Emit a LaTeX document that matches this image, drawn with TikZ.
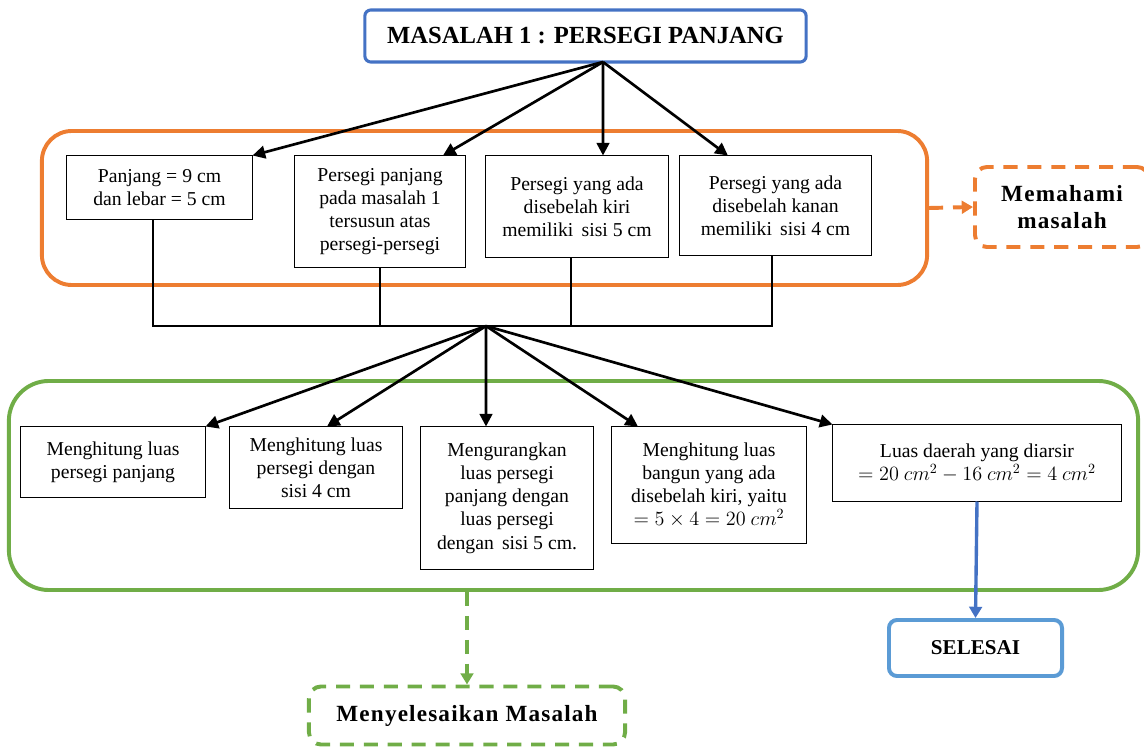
\documentclass[tikz,border=0pt]{standalone}
\usepackage{fontspec}
\setmainfont{Liberation Serif}
\usetikzlibrary{arrows.meta, positioning}
\definecolor{mapblue}{HTML}{4472C4}
\definecolor{mapsky}{HTML}{5B9BD5}
\definecolor{maporange}{HTML}{ED7D31}
\definecolor{mapgreen}{HTML}{70AD47}

\begin{document}
\begin{tikzpicture}[x=0.025cm, y=-0.025cm,
    box/.style={rectangle, draw=black, line width=0.7pt, fill=white,
                align=center, inner sep=2pt,
                font=\fontsize{14}{16.5}\selectfont},
    frame/.style={rectangle, line width=2.8pt, rounded corners=0.75cm},
    stage/.style={rectangle, dashed, dash pattern=on 10pt off 7pt,
                  line width=2.8pt, rounded corners=0.3cm, align=center,
                  font=\fontsize{16.5}{19}\selectfont\bfseries\addfontfeature{LetterSpace=5}},
    link/.style={-{Triangle[length=9pt, width=9pt]}, line width=1.9pt},
    bus/.style={line width=1.9pt},
    step link/.style={-{Triangle[length=8pt, width=9pt]}, line width=2.8pt}
  ]
    \clip (0,0) rectangle (1144,747);
    % Frames
    \node[frame, draw=maporange, minimum width=22.125cm, minimum height=3.85cm]
      (understand) at (484.5,208) {};
    \node[frame, draw=mapgreen, rounded corners=1cm, minimum width=28.225cm,
          minimum height=5.225cm] (solving) at (573.5,485.5) {};
    % Title
    \node[rectangle, draw=mapblue, line width=2.2pt, rounded corners=0.15cm,
          minimum width=11.03cm, minimum height=1.3cm,
          font=\fontsize{17.5}{20}\selectfont\bfseries] (title) at (585.5,36)
      {MASALAH 1 : PERSEGI PANJANG};
    \coordinate (apex) at (603,62);
    % Known facts (y=156)
    \node[box, minimum width=4.625cm, minimum height=1.575cm] (k1) at (159.5,187.5)
      {Panjang = 9 cm\\dan lebar = 5 cm};
    \node[box, minimum width=4.25cm, minimum height=2.775cm] (k2) at (380,211.5)
      {Persegi panjang\\pada masalah 1\\tersusun atas\\persegi-persegi};
    \node[box, minimum width=4.55cm, minimum height=2.525cm] (k3) at (577,206.5)
      {Persegi yang ada\\disebelah kiri\\memiliki\, sisi 5 cm};
    \node[box, minimum width=4.775cm, minimum height=2.475cm] (k4) at (775.5,205.5)
      {Persegi yang ada\\disebelah kanan\\memiliki\, sisi 4 cm};
    \node[stage, draw=maporange, minimum width=4.35cm, minimum height=2cm]
      (memahami) at (1062,207) {Memahami\\masalah};
    % Arrows: title -> facts
    \draw[link] (apex) -- (k1.north east);
    \draw[link] (apex) -- ([xshift=1.575cm]k2.north);
    \draw[link] (apex) -- ([xshift=0.65cm]k3.north);
    \draw[link] (apex) -- ([xshift=-1.19cm]k4.north);
    \draw[step link, draw=maporange, dashed, dash pattern=on 10pt off 7pt]
      (understand.east) -- (memahami.west);
    % Bus line joining the facts
    \coordinate (hub) at (486,326);
    \draw[bus] ([xshift=-0.16cm]k1.south) |- (hub) -| ([xshift=-0.09cm]k4.south);
    \draw[bus] (k2.south) -- (k2.south |- hub);
    \draw[bus] ([xshift=-0.15cm]k3.south) -- ([xshift=-0.15cm]k3.south |- hub);
    % Solution steps (y=427)
    \node[box, minimum width=4.6cm, minimum height=1.75cm] (s1) at (113,462)
      {Menghitung luas\\persegi panjang};
    \node[box, minimum width=4.3cm, minimum height=2.025cm] (s2) at (316,467.5)
      {Menghitung luas\\persegi dengan\\sisi 4 cm};
    \node[box, minimum width=4.3cm, minimum height=3.55cm] (s3) at (507,498)
      {Mengurangkan\\luas persegi\\panjang dengan\\luas persegi\\dengan\, sisi 5 cm.};
    \node[box, minimum width=4.85cm, minimum height=2.9cm] (s4) at (709,485)
      {Menghitung luas\\bangun yang ada\\disebelah kiri, yaitu\\$= 5 \times 4 = 20\ cm^2$};
    \node[box, minimum width=7.2cm, minimum height=1.9cm] (s5) at (977,463)
      {Luas daerah yang diarsir\\$= 20\ cm^2 - 16\ cm^2 = 4\ cm^2$};
    % Arrows: hub -> steps
    \draw[link] (hub) -- (s1.north east);
    \draw[link] (hub) -- ([xshift=0.275cm]s2.north);
    \draw[link] (hub) -- ([xshift=-0.525cm]s3.north);
    \draw[link] (hub) -- ([xshift=-1.775cm]s4.north);
    \draw[link] (hub) -- (s5.north west);
    % End nodes
    \node[rectangle, draw=mapsky, line width=2.8pt, rounded corners=0.2cm,
          minimum width=4.325cm, minimum height=1.4cm,
          font=\fontsize{15}{18}\selectfont\bfseries] (done) at (975.5,648) {SELESAI};
    \node[stage, draw=mapgreen, minimum width=7.9cm, minimum height=1.45cm]
      (solve) at (467,715.5) {Menyelesaikan Masalah};
    \draw[step link, draw=mapblue, line width=2.4pt] (s5.south) -- (done.north);
    \draw[step link, draw=mapgreen, dashed, dash pattern=on 10pt off 7pt]
      (solve.north |- solving.south) -- (solve.north);
  \end{tikzpicture}
\end{document}
